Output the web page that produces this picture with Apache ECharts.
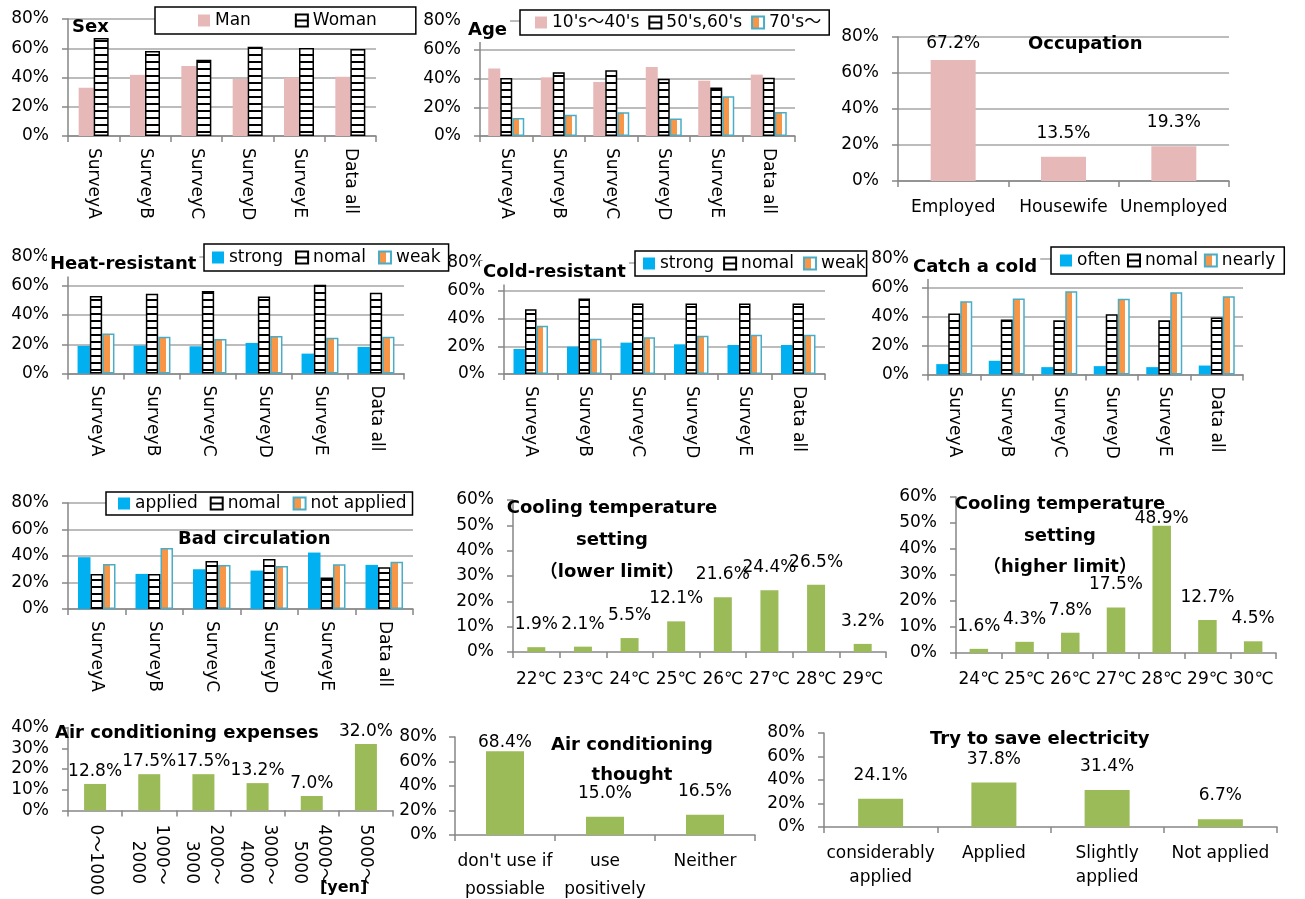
<!DOCTYPE html>
<html>
<head>
<meta charset="utf-8">
<title>Survey results</title>
<script src="https://cdn.jsdelivr.net/npm/echarts@6/dist/echarts.min.js"></script>
<style>
  html, body { margin: 0; padding: 0; background: #fff; }
  #chart { width: 1305px; height: 899px; }
</style>
</head>
<body>
<div id="chart"></div>
<script>
// ---- data (percent of respondents) ----
const surveys = ['SurveyA', 'SurveyB', 'SurveyC', 'SurveyD', 'SurveyE', 'Data all'];

const sexMan   = [33.0, 41.8, 47.8, 39.0, 39.8, 40.5];
const sexWoman = [67.0, 58.2, 52.2, 61.0, 60.2, 59.5];

const ageYoung  = [47.0, 40.8, 37.6, 48.0, 38.5, 42.7];
const ageMiddle = [40.4, 44.4, 45.8, 39.8, 33.8, 40.6];
const ageSenior = [12.6, 14.8, 16.6, 12.2, 27.7, 16.7];

const occupations     = ['Employed', 'Housewife', 'Unemployed'];
const occupationShare = [67.2, 13.5, 19.3];

const heatStrong = [18.9, 19.1, 18.6, 20.9, 13.6, 18.2];
const heatNormal = [53.0, 54.5, 56.4, 52.7, 60.7, 55.2];
const heatWeak   = [27.3, 25.2, 23.6, 25.7, 24.5, 25.2];

const coldStrong = [18.0, 19.7, 22.6, 21.4, 20.9, 20.9];
const coldNormal = [46.6, 54.5, 50.9, 50.9, 50.9, 50.9];
const coldWeak   = [34.8, 25.4, 26.4, 27.6, 28.3, 28.3];

const coldOften  = [7.2, 9.5, 5.1, 5.8, 5.1, 6.2];
const coldNormalFreq = [42.2, 38.1, 37.6, 41.8, 37.6, 39.4];
const coldNearly = [50.8, 52.6, 57.7, 52.4, 57.0, 54.2];

const circApplied    = [39.1, 26.5, 30.0, 29.0, 42.6, 33.3];
const circNormal     = [26.5, 26.5, 36.3, 37.8, 23.7, 31.5];
const circNotApplied = [34.0, 46.1, 33.3, 32.5, 33.8, 35.6];

const lowerTemps  = ['22℃', '23℃', '24℃', '25℃', '26℃', '27℃', '28℃', '29℃'];
const lowerShare  = [1.9, 2.1, 5.5, 12.1, 21.6, 24.4, 26.5, 3.2];

const higherTemps = ['24℃', '25℃', '26℃', '27℃', '28℃', '29℃', '30℃'];
const higherShare = [1.6, 4.3, 7.8, 17.5, 48.9, 12.7, 4.5];

const expenseBands = ['0～1000', '1000～2000', '2000～3000', '3000～4000', '4000～5000', '5000～'];
const expenseShare = [12.8, 17.5, 17.5, 13.2, 7.0, 32.0];

const thoughtAnswers = ["don't use if\npossiable", 'use\npositively', 'Neither'];
const thoughtShare   = [68.4, 15.0, 16.5];

const saveAnswers = ['considerably\napplied', 'Applied', 'Slightly\napplied', 'Not applied'];
const saveShare   = [24.1, 37.8, 31.4, 6.7];

// ---- styles ----
const FONT = "'DejaVu Sans', 'Noto Sans CJK JP', sans-serif";
const AXIS = '#868686';
const GRID = '#A6A6A6';

function stripeCanvas() {
  const c = document.createElement('canvas');
  c.width = 8; c.height = 7;
  const g = c.getContext('2d');
  g.fillStyle = '#fff'; g.fillRect(0, 0, 8, 7);
  g.fillStyle = '#000'; g.fillRect(0, 5, 8, 2);
  return c;
}

const PINK   = { color: '#E6B9B8' };
const BLUE   = { color: '#00B0F0' };
const GREEN  = { color: '#9BBB59' };
const STRIPE = { color: { image: stripeCanvas(), repeat: 'repeat' }, borderColor: '#000', borderWidth: 1.5 };
const HALF   = {
  color: { type: 'linear', x: 0, y: 0, x2: 1, y2: 0, colorStops: [
    { offset: 0, color: '#F79646' }, { offset: 0.6, color: '#F79646' },
    { offset: 0.6, color: '#ffffff' }, { offset: 1, color: '#ffffff' } ] },
  borderColor: '#4BACC6', borderWidth: 1.5
};

const grids = [], xAxes = [], yAxes = [], series = [], legends = [], texts = [];

function panel(box, cats, yMax, yStep, opt) {
  const gi = grids.length;
  grids.push({ left: box[0], top: box[1], width: box[2], height: box[3],
               containLabel: false, outerBoundsMode: 'none' });
  xAxes.push({
    type: 'category', gridIndex: gi, data: cats,
    axisLine: { show: true, lineStyle: { color: AXIS, width: 1.5 } },
    axisTick: { show: true, length: 6, lineStyle: { color: AXIS, width: 1.5 } },
    axisLabel: Object.assign({ interval: 0, color: '#000', fontSize: 17, fontFamily: FONT, margin: 12 }, opt.xLabel || {}),
    splitLine: { show: false }
  });
  yAxes.push({
    type: 'value', gridIndex: gi, min: 0, max: yMax, interval: yStep,
    axisLine: { show: true, lineStyle: { color: AXIS, width: 1.5 } },
    axisTick: { show: true, length: 6, lineStyle: { color: AXIS, width: 1.5 } },
    axisLabel: { formatter: '{value}%', color: '#000', fontSize: 17, fontFamily: FONT, margin: opt.yMargin || 19 },
    splitLine: { show: !!opt.gridLines, lineStyle: { color: GRID, width: 1.5 } }
  });
  return gi;
}

function bar(name, gi, data, style, width, label) {
  const s = { type: 'bar', name, xAxisIndex: gi, yAxisIndex: gi, data,
              barWidth: width, barGap: '0%', itemStyle: style };
  if (label) s.label = label;
  return s;
}

function valueLabel(dist) {
  return { show: true, position: 'top', distance: dist, color: '#000', fontSize: 17, fontFamily: FONT,
           formatter: p => Number(p.value).toFixed(1) + '%' };
}

// the tallest bar's label sits closer to its bar
function withPeakLabel(values, peakDist) {
  const peak = values.indexOf(Math.max(...values));
  return values.map((v, i) => i === peak ? { value: v, label: { distance: peakDist } } : v);
}

function legend(names, left, top, padding, gap) {
  legends.push({
    data: names, left, top, padding, itemGap: gap, orient: 'horizontal',
    icon: 'rect', itemWidth: 12, itemHeight: 12, selectedMode: false,
    borderColor: '#000', borderWidth: 1.5, borderRadius: 0, backgroundColor: '#fff',
    textStyle: { fontSize: 17, fontFamily: FONT, color: '#000' }
  });
}

function title(text, x, y, opt) {
  const o = opt || {};
  const style = { text, fill: '#000', font: 'bold ' + (o.size || 18) + 'px ' + FONT,
                  align: o.align || 'left', verticalAlign: 'top' };
  if (o.lineHeight) style.lineHeight = o.lineHeight;
  if (o.bg) { style.backgroundColor = '#fff'; style.padding = [3, 3]; }
  texts.push({ type: 'text', x, y, z: 100, style });
}

const rotated = { rotate: -90 };

// Sex
let g = panel([68, 19, 308, 117], surveys, 80, 20, { gridLines: true, xLabel: rotated });
series.push(bar('Man', g, sexMan, PINK, 15), bar('Woman', g, sexWoman, STRIPE, 15));
legend(['Man', 'Woman'], 155, 7, [5, 39, 5, 43], 44);
title('Sex', 72, 18);

// Age
g = panel([480, 21, 315, 115], surveys, 80, 20, { gridLines: true, xLabel: rotated });
series.push(bar("10's～40's", g, ageYoung, PINK, 12), bar("50's,60's", g, ageMiddle, STRIPE, 12),
            bar("70's～", g, ageSenior, HALF, 12));
legend(["10's～40's", "50's,60's", "70's～"], 520, 10, [4, 8, 4, 15], 9);
title('Age', 465, 18, { bg: true });

// Occupation
g = panel([898, 37, 331, 144], occupations, 80, 20, { gridLines: true, xLabel: { margin: 17, lineHeight: 20 } });
series.push(bar('Occupation', g, withPeakLabel(occupationShare, 8), PINK, 45, valueLabel(15)));
title('Occupation', 1028, 35);

// Heat-resistant
g = panel([68, 256.5, 336, 117], surveys, 80, 20, { gridLines: true, xLabel: rotated });
series.push(bar('strong', g, heatStrong, BLUE, 12.3), bar('nomal', g, heatNormal, STRIPE, 12.3),
            bar('weak', g, heatWeak, HALF, 12.3));
legend(['strong', 'nomal', 'weak'], 204, 244, [5, 8, 5, 8], 12);
title('Heat-resistant', 47, 252.5, { bg: true });

// Cold-resistant
g = panel([504, 263, 321, 111], surveys, 80, 20, { gridLines: true, xLabel: rotated });
series.push(bar('strong', g, coldStrong, BLUE, 11.5), bar('nomal', g, coldNormal, STRIPE, 11.5),
            bar('weak', g, coldWeak, HALF, 11.5));
legend(['strong', 'nomal', 'weak'], 635, 251, [4, 1, 4, 8], 9);
title('Cold-resistant', 480, 260.5, { bg: true });

// Catch a cold
g = panel([928, 259, 315, 115.5], surveys, 80, 20, { gridLines: true, xLabel: rotated });
series.push(bar('often', g, coldOften, BLUE, 12), bar('nomal', g, coldNormalFreq, STRIPE, 12),
            bar('nearly', g, coldNearly, HALF, 12));
legend(['often', 'nomal', 'nearly'], 1051, 247, [5, 9, 5, 9], 6);
title('Catch a cold', 910, 255, { bg: true });

// Bad circulation
g = panel([68, 503, 345, 106], surveys, 80, 20, { gridLines: true, xLabel: rotated });
series.push(bar('applied', g, circApplied, BLUE, 12.5), bar('nomal', g, circNormal, STRIPE, 12.5),
            bar('not applied', g, circNotApplied, HALF, 12.5));
legend(['applied', 'nomal', 'not applied'], 106, 492, [3, 6, 3, 12], 12);
title('Bad circulation', 178, 530.5);

// Cooling temperature setting (lower limit)
g = panel([513, 500, 373, 152], lowerTemps, 60, 10, { xLabel: { margin: 17.5, lineHeight: 20 } });
series.push(bar('lower limit', g, lowerShare, GREEN, 18, valueLabel(14)));
title('Cooling temperature\nsetting\n（lower limit）', 612, 492, { align: 'center', lineHeight: 32 });

// Cooling temperature setting (higher limit)
g = panel([956, 497, 320, 156], higherTemps, 60, 10, { xLabel: { margin: 17, lineHeight: 20 } });
series.push(bar('higher limit', g, withPeakLabel(higherShare, -1), GREEN, 18.5, valueLabel(14)));
title('Cooling temperature\nsetting\n（higher limit）', 1060, 489, { align: 'center', lineHeight: 31.5 });

// Air conditioning expenses
g = panel([68, 727.5, 325, 83], expenseBands, 40, 10, { xLabel: {
  rotate: -90, margin: 14, lineHeight: 24,
  formatter: (v, i) => (i === 0 || i === expenseBands.length - 1) ? v : v.replace('～', '～\n   ')
} });
series.push(bar('expenses', g, expenseShare, GREEN, 22, valueLabel(4)));
title('Air conditioning expenses', 55, 724.5);
title('[yen]', 320, 880, { size: 16 });

// Air conditioning thought
g = panel([455, 737, 300, 98], thoughtAnswers, 80, 20, { yMargin: 18, xLabel: { margin: 13, lineHeight: 28 } });
series.push(bar('thought', g, withPeakLabel(thoughtShare, 0), GREEN, 38, valueLabel(15)));
title('Air conditioning\nthought', 632, 730, { align: 'center', lineHeight: 30 });

// Try to save electricity
g = panel([824, 733, 453, 94], saveAnswers, 80, 20, { xLabel: { margin: 15, lineHeight: 24 } });
series.push(bar('save', g, saveShare, GREEN, 45, valueLabel(15)));
title('Try to save electricity', 930, 730.5);

const chart = echarts.init(document.getElementById('chart'), null, { renderer: 'canvas' });
chart.setOption({
  animation: false,
  backgroundColor: '#fff',
  textStyle: { fontFamily: FONT },
  grid: grids,
  xAxis: xAxes,
  yAxis: yAxes,
  legend: legends,
  series: series,
  graphic: { elements: texts }
});
</script>
</body>
</html>
